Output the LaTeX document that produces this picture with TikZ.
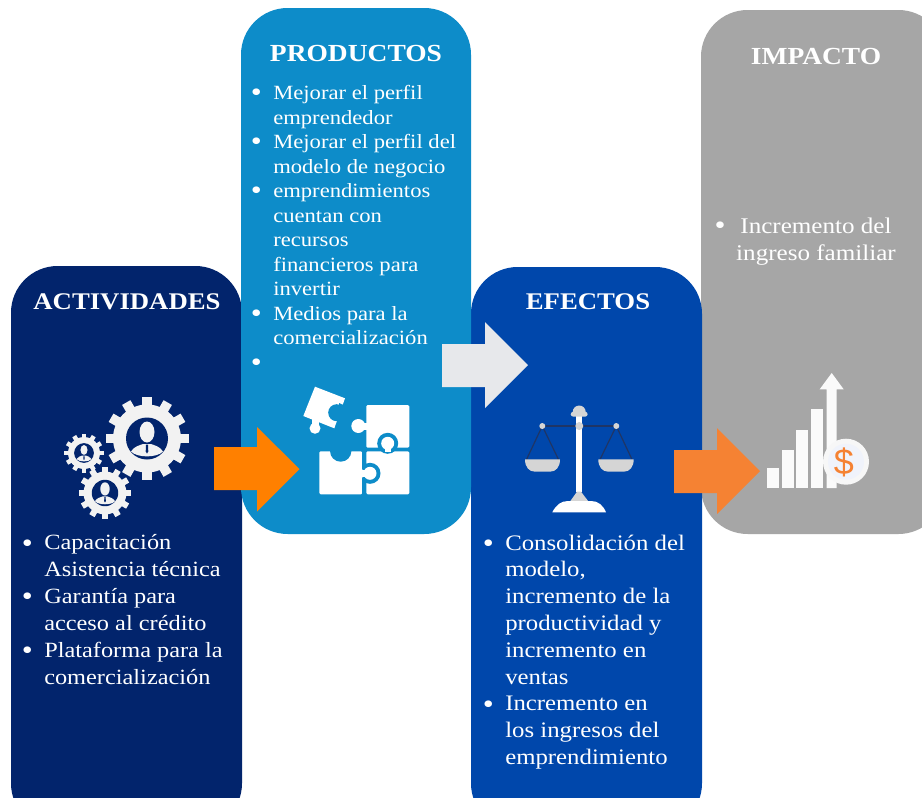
\documentclass[tikz,border=0pt]{standalone}
\usepackage{fontspec}
\setmainfont[FakeStretch=1.12]{Liberation Serif}
\newfontfamily\iconsans{Liberation Sans}
\definecolor{cact}{HTML}{02246C}
\definecolor{cprod}{HTML}{0D8CC9}
\definecolor{cefe}{HTML}{0047AB}
\definecolor{cimp}{HTML}{A6A6A6}
\definecolor{corA}{HTML}{FF8000}
\definecolor{corB}{HTML}{F58233}
\definecolor{cgrey}{HTML}{E7E8EB}
\definecolor{cgear}{HTML}{F2F2F2}
\definecolor{cscale}{HTML}{D5D5D5}
\definecolor{cbeam}{HTML}{1F3565}
\definecolor{ccoin}{HTML}{F0F3FB}
\newcommand{\itm}{\leavevmode\llap{\raisebox{-1.6pt}{\fontsize{21pt}{0pt}\selectfont •}\hspace{8.6pt}}}
\newcommand{\gearicon}[3]{%
 \begin{scope}[shift={(#1,#2)},scale=#3]
  \fill[cgear] (0,0) circle[radius=34];
  \foreach \a in {0,30,...,330}
   \fill[cgear,rotate=\a] (-4.8,-32) rectangle (4.8,-41.5);
  \fill[cact] (0,0) circle[radius=21];
  \fill[cgear] (0,-6.5) ellipse[x radius=7.5,y radius=10.5];
  \fill[cgear] (-16,13) .. controls (-13,8) and (-8,7) .. (-4,5.5) -- (4,5.5) .. controls (8,7) and (13,8) .. (16,13) .. controls (10,19.5) and (-10,19.5) .. (-16,13) -- cycle;
  \fill[cact] (-1,6) -- (1,6) -- (1.3,13) -- (0,15) -- (-1.3,13) -- cycle;
 \end{scope}}
\tikzset{
  panel/.style={rounded corners=35pt},
  body/.style n args={2}{anchor=north west,inner sep=0pt,align=left,text=white,font=\fontsize{#1}{#2}\selectfont},
  heading/.style={inner sep=0pt,text=white,font=\fontsize{#1}{22pt}\selectfont\bfseries},
  ico/.style={fill=white}
}
\begin{document}
\begin{tikzpicture}[x=0.75pt,y=-0.75pt]
\useasboundingbox (0,0) rectangle (922,797);
\clip (0,0) rectangle (922,797);
\fill[white] (0,0) rectangle (922,797);
% panels
\fill[cact,panel] (11,266) rectangle (242,830);
\fill[cimp,panel] (701,10) rectangle (945,534);
\fill[cefe,panel] (471,267) rectangle (702,830);
\fill[cprod,panel] (241,8) rectangle (471,534);
% headings
\node[heading=17.9pt] (hact) at (127,302) {ACTIVIDADES};
\node[heading=18.4pt] (hprod) at (356,53) {PRODUCTOS};
\node[heading=17.9pt] (hefe) at (588,302) {EFECTOS};
\node[heading=18.4pt] (himp) at (816,56) {IMPACTO};
% body text
\node[body={15.15pt}{18.4pt}] (tprod) at (273,85) {\itm Mejorar el perfil\\emprendedor\\\itm Mejorar el perfil del\\modelo de negocio\\\itm emprendimientos\\cuentan con\\recursos\\financieros para\\invertir\\\itm Medios para la\\comercialización\\\itm\strut};
\node[body={16.3pt}{20.2pt}] (tact) at (44,534.5) {\itm Capacitación\\Asistencia técnica\\\itm Garantía para\\acceso al crédito\\\itm Plataforma para la\\comercialización};
\node[body={16.6pt}{20.1pt}] (tefe) at (505,534.5) {\itm Consolidación del\\modelo,\\incremento de la\\productividad y\\incremento en\\ventas\\\itm Incremento en\\los ingresos del\\emprendimiento};
\node[body={16.8pt}{20.2pt},anchor=north,align=center] (timp) at (816,217.5) {Incremento del\\ingreso familiar};
\node[anchor=center,inner sep=0pt,text=white,font=\fontsize{21pt}{21pt}\selectfont] (bimp) at (720,228) {•};
% gears
\gearicon{147}{438.5}{1}
\gearicon{84}{453}{0.47}
\gearicon{105}{493}{0.63}
% puzzle
\fill[ico,rounded corners=1pt] (366.3,405) rectangle (409.3,447.7);
\fill[ico] (358.3,426) circle[radius=7];
\fill[ico] (360,422.5) rectangle (367,429.5);
\fill[ico,rounded corners=1pt] (366.3,451.3) rectangle (409.3,494.3);
\fill[cprod] (387.7,443.3) circle[radius=10.5];
\fill[cprod] (366.3,447.7) rectangle (409.3,451.3);
\fill[ico] (387.7,443.3) circle[radius=6.5];
\fill[ico] (384.5,445) rectangle (391,452);
\fill[cprod] (370,473.3) circle[radius=10.5];
\fill[ico,rounded corners=1pt] (319.3,451.3) rectangle (362.3,494.3);
\fill[cprod] (362.3,451.3) rectangle (366.3,469);
\fill[cprod] (362.3,478) rectangle (366.3,494.3);
\fill[ico] (370,473.3) circle[radius=6.5];
\fill[ico] (360,470) rectangle (368,476.6);
\fill[cprod] (340.7,451) circle[radius=10.7];
\fill[ico] (315,386.7) -- (345,398.3) -- (334.3,428.3) -- (303.3,416) -- cycle;
\fill[ico] (315,428.3) circle[radius=5.5];
\fill[ico] (312,419) rectangle (319,426);
\fill[cprod] (336.7,412.7) circle[radius=8.5];
\fill[cprod] (339,403) -- (350,408) -- (346,415) -- (340,412) -- cycle;
% scale
\fill[white] (576,416) rectangle (582,492);
\fill[cscale,rounded corners=2pt] (570.7,411.7) rectangle (587.7,416.7);
\fill[cscale] (572.7,412) arc[start angle=180,end angle=360,radius=6.5] -- cycle;
\draw[cbeam,line width=1pt] (542.3,426) -- (616.3,426);
\draw[cbeam,line width=0.9pt] (526.5,459.5) -- (542.3,426) -- (558.5,459.5);
\draw[cbeam,line width=0.9pt] (600,459.5) -- (616.3,426) -- (632,459.5);
\fill[cscale] (579.3,426) circle[radius=4];
\fill[cscale] (542.3,426) circle[radius=3];
\fill[cscale] (616.3,426) circle[radius=3];
\fill[cscale] (525,459.3) -- (560,459.3) .. controls (560,467) and (556,471.7) .. (550,471.7) -- (535,471.7) .. controls (529,471.7) and (525,467) .. (525,459.3) -- cycle;
\fill[cscale] (598.3,459.3) -- (633.7,459.3) .. controls (633.7,467) and (629.7,471.7) .. (623.7,471.7) -- (608.3,471.7) .. controls (602.3,471.7) and (598.3,467) .. (598.3,459.3) -- cycle;
\fill[cscale] (570,501.5) -- (577,491.7) -- (581,491.7) -- (588.5,501.5) -- cycle;
\fill[white] (552.3,512.3) .. controls (556,505) and (561,501) .. (568,501) -- (591,501) .. controls (598,501) and (603,505) .. (606,512.3) -- cycle;
% chart
\foreach \xa/\ya in {767/468,782/450,796/430,811/409}
  \fill[white!98!black] (\xa,\ya) rectangle (\xa+12,488);
\fill[white!98!black] (826.7,389.3) -- (819.7,389.3) -- (831.7,373) -- (843.7,389.3) -- (836.7,389.3) -- (836.7,488) -- (826.7,488) -- cycle;
\fill[white!97!black] (846,461.7) circle[radius=23];
\fill[ccoin] (846,461.7) circle[radius=18];
\node[inner sep=0pt,text=corB,font=\iconsans\fontsize{27pt}{27pt}\selectfont] (dollar) at (844,462) {\$};
% arrows
\fill[corA] (214,447) -- (257,447) -- (257,427) -- (299.5,469) -- (257,511.5) -- (257,490) -- (214,490) -- cycle;
\fill[cgrey] (442,344) -- (485,344) -- (485,322) -- (528,365) -- (485,408) -- (485,387) -- (442,387) -- cycle;
\fill[corB] (674,450) -- (717,450) -- (717,428) -- (760,471) -- (717,514) -- (717,493) -- (674,493) -- cycle;
\end{tikzpicture}
\end{document}
